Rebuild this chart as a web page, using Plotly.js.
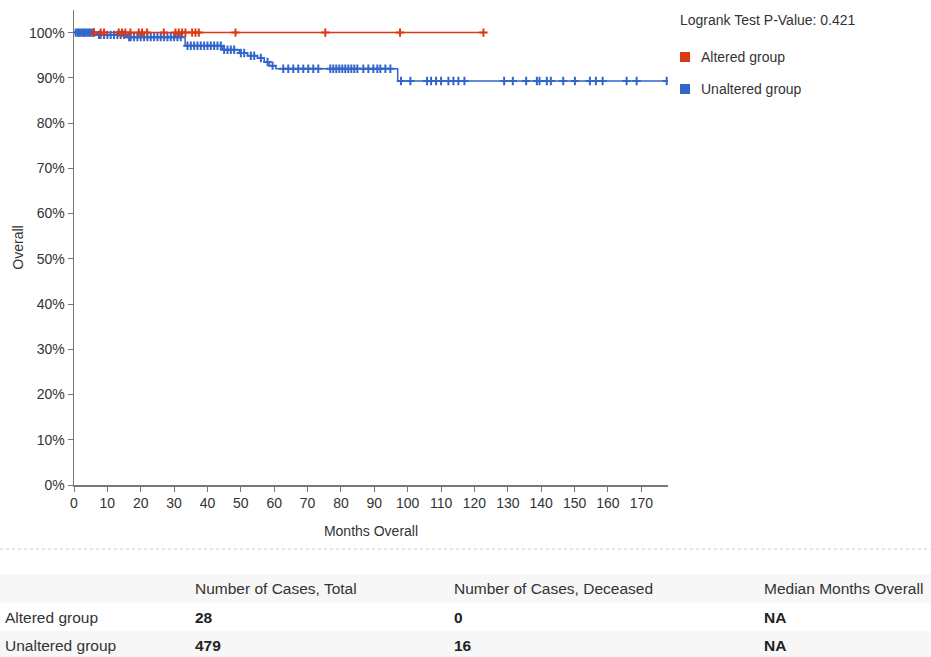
<!DOCTYPE html>
<html>
<head>
<meta charset="utf-8">
<script src="https://cdn.plot.ly/plotly-3.0.1.min.js"></script>
<style>
html,body{margin:0;padding:0;background:#fff;}
#chart{width:931px;height:657px;}
</style>
</head>
<body>
<div id="chart"></div>
<script>
// ---- data ----
const alteredTimes = [0, 122.7];
const alteredSurv = [1, 1];
const alteredCensored = [6, 8, 9, 13.4, 14.4, 15.4, 16.9, 19.4, 20.4, 21.9, 26.9, 30.4, 31.4, 32.4, 33.4, 35.4, 36.4, 37.4, 48.4, 75.3, 97.7, 122.7];

const unalteredTimes = [0, 7, 16, 33.3, 44.5, 49.5, 52, 55, 57, 58.5, 60.5, 97, 177.6];
const unalteredSurv = [1, 0.995, 0.99, 0.971, 0.962, 0.955, 0.949, 0.944, 0.935, 0.927, 0.92, 0.893, 0.893];
const unalteredCensored = [0.5, 1, 1.5, 2, 2.5, 3, 3.5, 4, 4.5, 5, 5.5, 6, 7.5, 8, 9, 10, 11, 12, 13, 14, 15, 16.5, 17, 18, 19, 20, 21, 22, 23, 24, 25, 26, 27, 28, 29, 30, 31, 32, 34, 35, 36, 37, 38, 39, 40, 41, 42, 43, 44, 45, 46, 47, 48, 50, 51, 53, 54, 56, 58, 59.5, 62.7, 64.2, 65.7, 67.2, 68.7, 70.2, 71.7, 73.2, 76.8, 77.7, 78.6, 79.5, 80.4, 81.3, 82.2, 83.1, 84.0, 84.9, 86.7, 88.2, 89.7, 90.9, 91.8, 93.3, 94.8, 98, 100.8, 105.8, 107, 108.5, 110, 112.2, 113.7, 115.2, 117, 128.9, 131.5, 135.5, 138.7, 139.5, 141.7, 142.9, 146.6, 150.1, 154.6, 156.4, 158.4, 165.6, 168.6, 177.6];

const xTicks = [0,10,20,30,40,50,60,70,80,90,100,110,120,130,140,150,160,170];
const yTicks = [0,0.1,0.2,0.3,0.4,0.5,0.6,0.7,0.8,0.9,1.0];
const yTickText = ['0%','10%','20%','30%','40%','50%','60%','70%','80%','90%','100%'];

const groupNames = ['Altered group', 'Unaltered group'];
const groupColors = ['#dc3912', '#3366cc'];
const tableHeaders = ['Number of Cases, Total', 'Number of Cases, Deceased', 'Median Months Overall'];
const casesTotal = ['28', '479'];
const casesDeceased = ['0', '16'];
const medianMonths = ['NA', 'NA'];
const pValueText = 'Logrank Test P-Value: 0.421';

// step lookup for censor marks
function survAt(times, surv, t) {
  let s = surv[0];
  for (let i = 0; i < times.length; i++) { if (times[i] <= t) s = surv[i]; }
  return s;
}

// ---- layout geometry (pixels) ----
const W = 931, H = 657;
const L = 74, R = 668, T = 10, B = 485;
const px = x => (x - L) / (R - L);
const py = y => (B - y) / (B - T);

const FONT = 'Liberation Sans, Arial, Helvetica, sans-serif';

const markerStyle = c => ({symbol: 'cross-thin', size: 6, color: c, line: {color: c, width: 2}});

const traces = [
  {x: alteredTimes, y: alteredSurv, mode: 'lines', line: {shape: 'hv', color: groupColors[0], width: 1.5}, showlegend: false, hoverinfo: 'skip'},
  {x: unalteredTimes, y: unalteredSurv, mode: 'lines', line: {shape: 'hv', color: groupColors[1], width: 1.5}, showlegend: false, hoverinfo: 'skip'},
  {x: unalteredCensored, y: unalteredCensored.map(t => survAt(unalteredTimes, unalteredSurv, t)), mode: 'markers',
   marker: markerStyle(groupColors[1]), showlegend: false},
  {x: alteredCensored, y: alteredCensored.map(t => survAt(alteredTimes, alteredSurv, t)), mode: 'markers',
   marker: markerStyle(groupColors[0]), showlegend: false}
];

const annotations = [];
const shapes = [];

function ann(text, x, y, size, color) {
  annotations.push({text: text, xref: 'paper', yref: 'paper', x: px(x), y: py(y), showarrow: false,
    xanchor: 'left', yanchor: 'middle', borderpad: 0, font: {family: FONT, size: size, color: color || '#333'}});
}

// legend
ann(pValueText, 679, 20, 14);
const legendY = [57, 89];
groupNames.forEach((g, i) => {
  shapes.push({type: 'rect', xref: 'paper', yref: 'paper', x0: px(680), x1: px(690), y0: py(legendY[i] - 5), y1: py(legendY[i] + 5),
    fillcolor: groupColors[i], line: {width: 0}});
  ann(g, 700, legendY[i], 14);
});

// dotted separator
shapes.push({type: 'line', xref: 'paper', yref: 'paper', x0: px(0), x1: px(W), y0: py(549), y1: py(549),
  line: {color: '#cccccc', width: 1, dash: 'dot'}});

// table backgrounds
shapes.push({type: 'rect', xref: 'paper', yref: 'paper', x0: px(0), x1: px(W), y0: py(603), y1: py(574),
  fillcolor: '#f7f7f7', line: {width: 0}, layer: 'below'});
shapes.push({type: 'rect', xref: 'paper', yref: 'paper', x0: px(0), x1: px(W), y0: py(657), y1: py(631),
  fillcolor: '#f7f7f7', line: {width: 0}, layer: 'below'});

const colX = [194, 453, 763];
tableHeaders.forEach((h, i) => ann(h, colX[i], 588, 15.5));
const rowY = [617, 645];
groupNames.forEach((g, r) => {
  ann(g, 4, rowY[r], 15.5);
  ann('<b>' + casesTotal[r] + '</b>', colX[0], rowY[r], 15.5, '#222');
  ann('<b>' + casesDeceased[r] + '</b>', colX[1], rowY[r], 15.5, '#222');
  ann('<b>' + medianMonths[r] + '</b>', colX[2], rowY[r], 15.5, '#222');
});

const layout = {
  width: W, height: H,
  margin: {l: L, r: W - R, t: T, b: H - B, pad: 0},
  paper_bgcolor: '#fff', plot_bgcolor: '#fff',
  showlegend: false,
  font: {family: FONT, size: 14, color: '#333'},
  xaxis: {range: [0, 178], tickvals: xTicks, ticktext: xTicks.map(String), showgrid: false, zeroline: false,
    showline: true, linecolor: '#777', linewidth: 1.5, ticks: 'outside', ticklen: 5, tickcolor: '#777',
    tickfont: {family: FONT, size: 14, color: '#333'}, automargin: false,
    title: {text: 'Months Overall', font: {family: FONT, size: 14, color: '#333'}, standoff: 16}},
  yaxis: {range: [0, 1.05], tickvals: yTicks, ticktext: yTickText, showgrid: false, zeroline: false,
    showline: true, linecolor: '#777', linewidth: 1.5, ticks: 'outside', ticklen: 5, tickcolor: '#777',
    tickfont: {family: FONT, size: 14, color: '#333'}, automargin: false,
    title: {text: 'Overall', font: {family: FONT, size: 14, color: '#333'}, standoff: 2}},
  annotations: annotations,
  shapes: shapes
};

Plotly.newPlot('chart', traces, layout, {displayModeBar: false, staticPlot: true});
</script>
</body>
</html>
